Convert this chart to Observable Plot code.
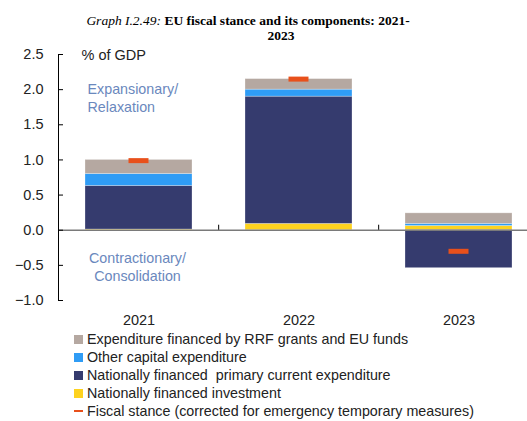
<!DOCTYPE html>
<html>
<head>
<meta charset="utf-8">
<script src="https://cdn.jsdelivr.net/npm/d3@7"></script>
<script src="https://cdn.jsdelivr.net/npm/@observablehq/plot@0.6"></script>
<style>
  body { margin: 0; background: #fff; }
  #wrap { position: relative; width: 527px; height: 421px; overflow: hidden; font-family: "Liberation Sans", Arial, sans-serif; }
  .title { position: absolute; font-family: "Liberation Serif", "Times New Roman", serif; font-size: 13.5px; color: #000; white-space: nowrap; transform: translateX(-50%); }
  .title b { font-weight: bold; }
  #chart { position: absolute; left: 0; top: 46px; }
  #legend { position: absolute; left: 74px; top: 330px; font-size: 14.3px; color: #222; }
  .li { height: 18px; line-height: 18px; display: flex; align-items: center; white-space: pre; }
  .sw { width: 9px; height: 9px; margin-right: 4px; flex: none; }
  .dash { width: 9px; height: 2.5px; margin-right: 4px; flex: none; }
</style>
</head>
<body>
<div id="wrap">
  <div class="title" style="left:248px; top:13px;"><i>Graph I.2.49:</i> <b>EU fiscal stance and its components: 2021-</b></div>
  <div class="title" style="left:281px; top:28px;"><b>2023</b></div>
  <div id="chart"></div>
  <div id="legend"></div>
</div>
<script>
const years = ["2021", "2022", "2023"];
const components = [
  "Nationally financed investment",
  "Nationally financed  primary current expenditure",
  "Other capital expenditure",
  "Expenditure financed by RRF grants and EU funds"
];
const colors = ["#fdd21f", "#353b6e", "#2f9cf5", "#b5a8a1"];
const investment = [0.01, 0.09, 0.06];
const primaryCurrent = [0.62, 1.81, -0.54];
const otherCapital = [0.17, 0.10, 0.03];
const rrfFunds = [0.20, 0.15, 0.15];
const fiscalStance = [0.99, 2.15, -0.30];
const yTicks = [-1.0, -0.5, 0.0, 0.5, 1.0, 1.5, 2.0, 2.5];
const stanceLabel = "Fiscal stance (corrected for emergency temporary measures)";
const stanceColor = "#e8501b";
const legendOrder = [3, 2, 1, 0];

const series = [investment, primaryCurrent, otherCapital, rrfFunds];
const rows = [];
years.forEach((yr, i) => {
  series.forEach((s, k) => rows.push({year: yr, component: components[k], value: s[i]}));
});
const stance = years.map((yr, i) => ({year: yr, value: fiscalStance[i]}));

const font = "Liberation Sans, Arial, sans-serif";
const plot = Plot.plot({
  width: 527,
  height: 284,
  marginTop: 8,
  marginBottom: 30,
  marginLeft: 58,
  marginRight: 0,
  style: {fontFamily: font, fontSize: "13px", color: "#222", background: "transparent"},
  x: {domain: years, range: [58, 538], paddingInner: 1/3, paddingOuter: 1/6, label: null},
  y: {domain: [-1, 2.5], label: null},
  color: {domain: components, range: colors},
  marks: [
    Plot.barY(rows, {x: "year", y: "value", fill: "component", stroke: "#ffffff", strokeOpacity: 0.35, strokeWidth: 0.8}),
    Plot.ruleY([0], {stroke: "#7a7a7a", strokeWidth: 1.6}),
    Plot.tickY(stance, {x: "year", y: "value", stroke: stanceColor, strokeWidth: 5, insetLeft: 43.5, insetRight: 43.5}),
    Plot.axisY(yTicks, {tickSize: -5, tickPadding: 20, tickFormat: d3.format(".1f"), fontSize: 14.5, stroke: "#000", color: "#222"}),
    Plot.frame({anchor: "left", stroke: "#000", strokeWidth: 1}),
    Plot.axisX({tickSize: 0, tickPadding: 14, fontSize: 14.5, color: "#222"}),
    Plot.text(["% of GDP"], {frameAnchor: "top-left", dx: 23, dy: -5, fontSize: 14.5, fill: "#222", textAnchor: "start"}),
    Plot.text(["Expansionary/\nRelaxation"], {frameAnchor: "top-left", dx: 29, dy: 26, fontSize: 14.3, fill: "#6a88bd", textAnchor: "start", lineHeight: 1.3}),
    Plot.text(["Contractionary/\nConsolidation"], {frameAnchor: "top-left", dx: 79, dy: 195, fontSize: 14.3, fill: "#6a88bd", textAnchor: "middle", lineHeight: 1.3})
  ]
});
document.getElementById("chart").appendChild(plot);

// category separator ticks on the zero line, positioned from the scales
const xs = plot.scale("x"), ys = plot.scale("y");
const svg = d3.select(plot);
years.slice(0, -1).forEach(yr => {
  const xpos = xs.apply(yr) + xs.bandwidth + xs.step * xs.paddingInner / 2;
  svg.append("line").attr("x1", xpos).attr("x2", xpos)
    .attr("y1", ys.apply(0)).attr("y2", ys.apply(0) - 5)
    .attr("stroke", "#000").attr("stroke-width", 1);
});

const legend = document.getElementById("legend");
legendOrder.forEach(k => {
  const d = document.createElement("div");
  d.className = "li";
  d.innerHTML = `<span class="sw" style="background:${colors[k]}"></span><span>${components[k]}</span>`;
  legend.appendChild(d);
});
const d = document.createElement("div");
d.className = "li";
d.innerHTML = `<span class="dash" style="background:${stanceColor}"></span><span>${stanceLabel}</span>`;
legend.appendChild(d);
</script>
</body>
</html>
